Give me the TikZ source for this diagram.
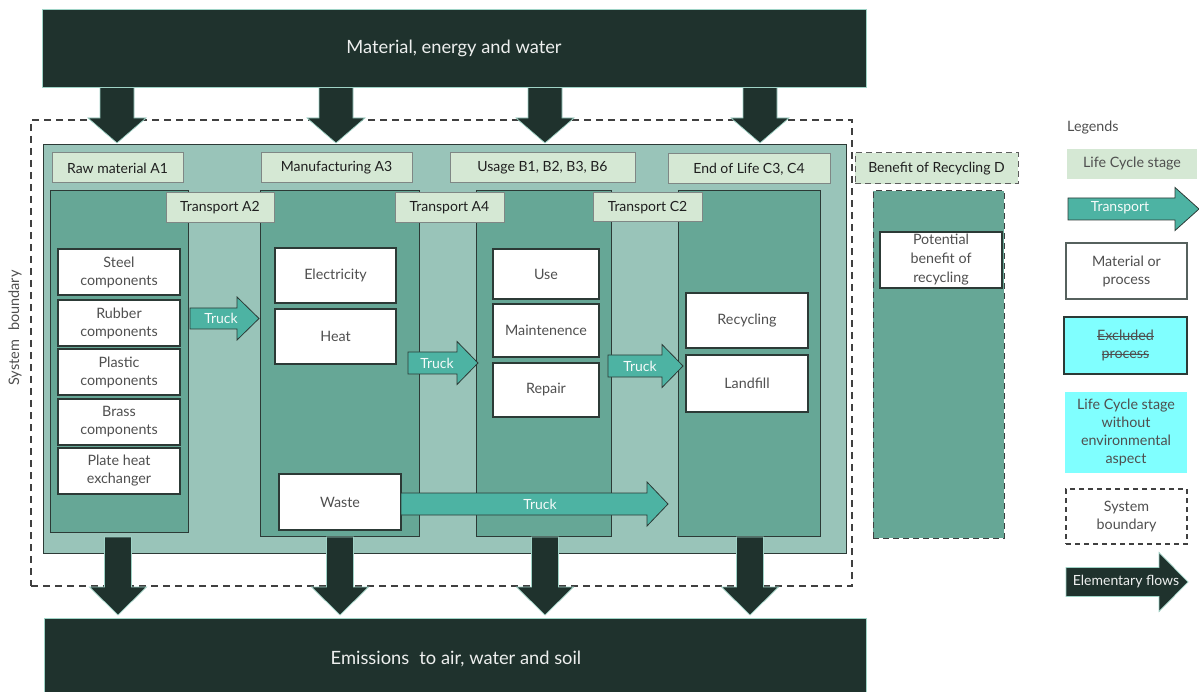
\documentclass[tikz,border=0pt]{standalone}
\usepackage{fontspec}
\setmainfont{Lato}

\definecolor{darkflow}{HTML}{1F322D}
\definecolor{flowedge}{HTML}{9FD3C6}
\definecolor{bgteal}{HTML}{99C4B9}
\definecolor{colteal}{HTML}{66A796}
\definecolor{stagefill}{HTML}{D5E8D4}
\definecolor{stageedge}{HTML}{7F8785}
\definecolor{truckteal}{HTML}{4DB3A3}
\definecolor{cyanfill}{HTML}{80FFFF}
\definecolor{edge}{HTML}{2C3A36}
\definecolor{txtgray}{HTML}{4F4F4F}
\definecolor{dashgray}{HTML}{404040}

% struck-through text
\newsavebox{\strkbox}
\newcommand{\strk}[1]{\sbox{\strkbox}{#1}\rlap{\usebox{\strkbox}}\rule[0.3em]{\wd\strkbox}{0.6pt}}

% box node from its two corners: name, style, x0, y0, x1, y1, text
\newcommand{\boxnode}[7]{%
  \node[#2, minimum width={#5-#3}, minimum height={#6-#4}] (#1)
    at ({(#3+#5)/2},{(#4+#6)/2}) {#7};}

% block arrow pointing right: style, x tail, x tip, y centre, shaft half, head half, head length
\newcommand{\rblock}[7]{%
  \draw[#1] ({#2},{#4-#5}) -- ({#3-#7},{#4-#5}) -- ({#3-#7},{#4-#6}) -- ({#3},{#4})
    -- ({#3-#7},{#4+#6}) -- ({#3-#7},{#4+#5}) -- ({#2},{#4+#5}) -- cycle;}

% block arrow pointing down: style, x centre, y tail, y tip, shaft half, head half, head length
\newcommand{\dblock}[7]{%
  \draw[#1] ({#2-#5},{#3}) -- ({#2-#5},{#4-#7}) -- ({#2-#6},{#4-#7}) -- ({#2},{#4})
    -- ({#2+#6},{#4-#7}) -- ({#2+#5},{#4-#7}) -- ({#2+#5},{#3}) -- cycle;}

\tikzset{
  flowbox/.style={draw=flowedge, line width=0.6pt, fill=darkflow, text=white!92!darkflow,
    inner sep=0pt, font=\fontsize{18.3}{22}\selectfont},
  flowarrow/.style={draw=flowedge, line width=0.7pt, fill=darkflow},
  stagearea/.style={draw=edge, line width=0.8pt, fill=bgteal, inner sep=0pt},
  stagecol/.style={draw=edge, line width=0.8pt, fill=colteal, inner sep=0pt},
  stagelabel/.style={draw=stageedge, line width=1pt, fill=stagefill, inner sep=0pt,
    text=black!88, font=\fontsize{14}{16}\selectfont},
  procbox/.style={draw=edge, line width=1.1pt, fill=white, inner sep=0pt, align=center,
    text=txtgray, font=\fontsize{14.3}{18}\selectfont},
  truckarrow/.style={draw=edge, line width=0.8pt, fill=truckteal},
  trucklabel/.style={text=white!95!truckteal, inner sep=1pt, font=\fontsize{14}{16}\selectfont},
  boundary/.style={draw=dashgray, line width=1.3pt, dash pattern=on 7pt off 5pt},
  legendbox/.style={inner sep=0pt, align=center, text=txtgray, font=\fontsize{14.3}{18}\selectfont},
}

\begin{document}
\begin{tikzpicture}[x=1pt,y=-1pt]
\useasboundingbox (0,0) rectangle (1199,692);

% system boundary
\boxnode{sysbound}{boundary, inner sep=0pt}{31}{120}{852}{586}{}
\node[rotate=90, text=txtgray, font=\fontsize{14.5}{16}\selectfont] (sblabel) at (15,328)
  {System\hspace{0.6em}boundary};

% life cycle stages area
\boxnode{stages}{stagearea}{43}{144}{846}{553}{}

% stage columns
\boxnode{colA1}{stagecol}{50}{190}{188}{532}{}
\boxnode{colA3}{stagecol}{260}{190}{419}{536}{}
\boxnode{colB}{stagecol}{476}{190}{611}{536}{}
\boxnode{colC}{stagecol}{678}{190}{820}{536}{}

% stage labels
\boxnode{lblA1}{stagelabel}{52}{153}{183}{183}{Raw material A1}
\boxnode{lblA3}{stagelabel}{261}{153}{412}{183}{Manufacturing A3}
\boxnode{lblB}{stagelabel}{450}{153}{635}{183}{Usage B1, B2, B3, B6}
\boxnode{lblC}{stagelabel}{668}{154}{830}{184}{End of Life C3, C4}
\boxnode{lblA2}{stagelabel}{166}{193}{274}{223}{Transport A2}
\boxnode{lblA4}{stagelabel}{395}{193}{504}{223}{Transport A4}
\boxnode{lblC2}{stagelabel}{593}{193}{702}{222}{Transport C2}

% raw materials
\boxnode{steel}{procbox}{58}{249}{180}{295}{Steel\\components}
\boxnode{rubber}{procbox}{58}{300}{180}{346}{Rubber\\components}
\boxnode{plastic}{procbox}{58}{349}{180}{395}{Plastic\\components}
\boxnode{brass}{procbox}{58}{399}{180}{445}{Brass\\components}
\boxnode{phe}{procbox}{58}{448}{180}{494}{Plate heat\\exchanger}

% manufacturing
\boxnode{elec}{procbox}{275}{248}{396}{303}{Electricity}
\boxnode{heat}{procbox}{275}{309}{396}{364}{Heat}
\boxnode{waste}{procbox}{279}{474}{401}{530}{Waste}

% usage
\boxnode{use}{procbox}{493}{249}{599}{299}{Use}
\boxnode{maint}{procbox}{493}{304}{599}{357}{Maintenence}
\boxnode{repair}{procbox}{493}{363}{599}{417}{Repair}

% end of life
\boxnode{recyc}{procbox}{686}{293}{808}{348}{Recycling}
\boxnode{landfill}{procbox}{686}{355}{808}{412}{Landfill}

% transport by truck
\rblock{truckarrow}{190}{259}{318.5}{10.5}{21.5}{22}
\node[trucklabel] (truckA2) at (221,318.5) {Truck};
\rblock{truckarrow}{408}{478}{363}{11}{21.5}{21}
\node[trucklabel] (truckA4) at (437,363) {Truck};
\rblock{truckarrow}{608}{683}{366}{11}{21.5}{21}
\node[trucklabel] (truckC2) at (640,366) {Truck};
\rblock{truckarrow}{401}{668}{504}{11}{22}{21}
\node[trucklabel] (truckW) at (540,504) {Truck};

% benefit of recycling (outside the boundary)
\boxnode{lblD}{stagelabel, draw=dashgray!85, dash pattern=on 6pt off 4pt}{855}{153}{1018}{184}{Benefit of Recycling D}
\boxnode{colD}{stagecol, draw=dashgray, dash pattern=on 6pt off 4pt, line width=1pt}{873}{191}{1004}{538}{}
\boxnode{potential}{procbox, font=\fontsize{14.3}{19}\selectfont}{880}{232}{1002}{288}{Potential\\benefit of\\recycling}

% elementary flows in
\dblock{flowarrow}{117}{86}{143}{17}{29}{25}
\dblock{flowarrow}{336}{86}{143}{17}{29}{25}
\dblock{flowarrow}{545}{86}{143}{17}{29}{25}
\dblock{flowarrow}{760}{86}{143}{17}{29}{25}
\boxnode{inputs}{flowbox}{42}{9}{866}{87}{Material, energy and water}

% elementary flows out
\dblock{flowarrow}{118}{537}{615}{13.5}{28.5}{28}
\dblock{flowarrow}{340}{537}{615}{13.5}{28.5}{28}
\dblock{flowarrow}{545}{537}{615}{13.5}{28.5}{28}
\dblock{flowarrow}{750}{537}{615}{13.5}{28.5}{28}
\boxnode{outputs}{flowbox}{44}{618}{866}{694}{}
\node[text=white!92!darkflow, font=\fontsize{18.3}{22}\selectfont] (outtext) at (456,659)
  {Emissions\hspace{0.3em} to air, water and soil};

% legend
\node[anchor=west, text=txtgray, inner sep=0pt, font=\fontsize{14.3}{16}\selectfont] (legtitle)
  at (1067,128) {Legends};
\boxnode{legstage}{legendbox, fill=stagefill}{1067}{149}{1197}{179}{Life Cycle stage}
\rblock{truckarrow}{1068}{1199}{209}{11}{21.5}{24}
\node[trucklabel] (legtrans) at (1120,208) {Transport};
\boxnode{legproc}{legendbox, draw=edge!80, line width=1.1pt, fill=white}{1066}{243}{1187}{299}{Material or\\process}
\boxnode{legexcl}{legendbox, draw=edge, line width=1.1pt, fill=cyanfill}{1064}{317}{1187}{374}{\strk{Excluded}\\\strk{process}}
\boxnode{legnoenv}{legendbox, fill=cyanfill}{1065}{392}{1187}{473}{Life Cycle stage\\without\\environmental\\aspect}
\boxnode{legbound}{legendbox, boundary, line width=1.1pt, dash pattern=on 5pt off 4pt}{1066}{489}{1187}{544}{System\\boundary}
\rblock{flowarrow}{1066}{1188}{582}{14.5}{29.5}{29}
\node[text=white!92!darkflow, inner sep=0pt, font=\fontsize{14}{16}\selectfont] (legflow)
  at (1126,582) {Elementary flows};
\end{tikzpicture}
\end{document}
